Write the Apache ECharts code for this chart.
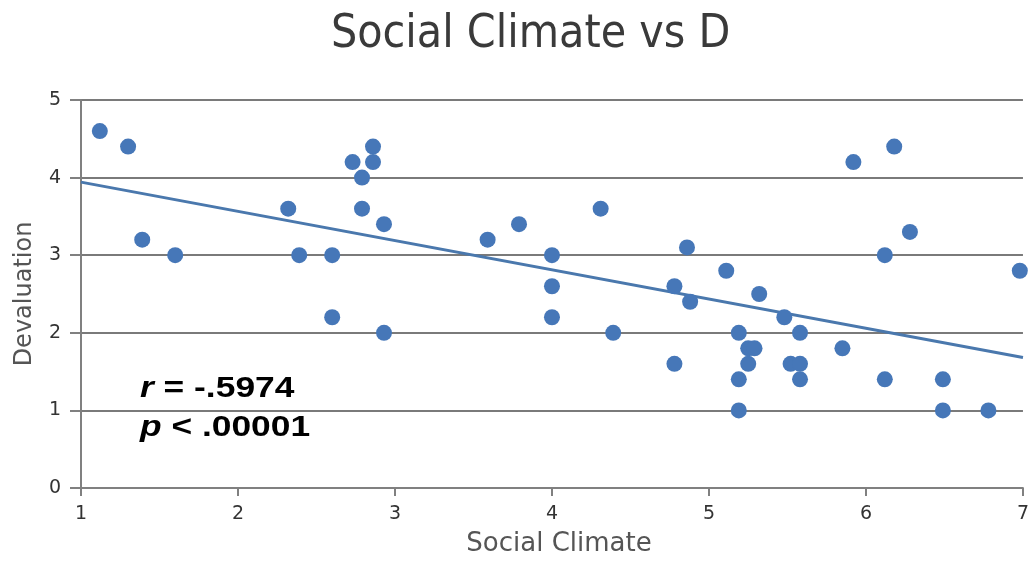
<!DOCTYPE html>
<html>
<head>
<meta charset="utf-8">
<script src="https://cdn.jsdelivr.net/npm/echarts@6/dist/echarts.min.js"></script>
<style>
html,body{margin:0;padding:0;background:#fff;}
#chart{width:1032px;height:563px;}
</style>
</head>
<body>
<div id="chart"></div>
<script>
const titleText = 'Social Climate vs D';
const xAxisName = 'Social Climate';
const yAxisName = 'Devaluation';
const statR = '-.5974';
const statP = '< .00001';

const socialClimate = [1.12,1.30,1.39,1.60,2.32,2.39,2.60,2.60,2.73,2.79,2.79,2.86,2.86,2.93,2.93,3.59,3.79,4.00,4.00,4.00,4.31,4.39,4.78,4.78,4.86,4.88,5.11,5.19,5.19,5.19,5.25,5.29,5.25,5.32,5.48,5.52,5.58,5.58,5.58,5.85,5.92,6.12,6.12,6.18,6.28,6.49,6.49,6.78,6.98];
const devaluation  = [4.6,4.4,3.2,3.0,3.6,3.0,3.0,2.2,4.2,4.0,3.6,4.4,4.2,3.4,2.0,3.2,3.4,3.0,2.6,2.2,3.6,2.0,2.6,1.6,3.1,2.4,2.8,2.0,1.4,1.0,1.8,1.8,1.6,2.5,2.2,1.6,1.6,2.0,1.4,1.8,4.2,1.4,3.0,4.4,3.3,1.4,1.0,1.0,2.8];

const xMin = 1, xMax = 7;

// least-squares fit from the data
const n = socialClimate.length;
const mx = socialClimate.reduce((a,b)=>a+b,0)/n;
const my = devaluation.reduce((a,b)=>a+b,0)/n;
let sxy = 0, sxx = 0;
for (let i=0;i<n;i++){ sxy += (socialClimate[i]-mx)*(devaluation[i]-my); sxx += (socialClimate[i]-mx)**2; }
const slope = sxy/sxx;
const intercept = my - slope*mx;
const trend = [[xMin, intercept + slope*xMin],[xMax, intercept + slope*xMax]];

const points = socialClimate.map((x,i)=>[x, devaluation[i]]);

const statRich = {
  i: { fontStyle: 'italic', fontWeight: 'bold', fontFamily: 'Liberation Sans', fontSize: 29, color: '#000', fill: '#000' },
  n: { fontStyle: 'normal', fontWeight: 'bold', fontFamily: 'Liberation Sans', fontSize: 29, color: '#000', fill: '#000' }
};

const chart = echarts.init(document.getElementById('chart'));
chart.setOption({
  backgroundColor: '#fff',
  animation: false,
  title: {
    text: titleText, left: 326, top: 7,
    textStyle: { fontFamily: 'DejaVu Sans Condensed', fontSize: 46, fontWeight: 'normal', color: '#3a3a3a' }
  },
  grid: { left: 81, right: 4, top: 100, bottom: 75, containLabel: false },
  xAxis: {
    type: 'value', min: xMin, max: xMax, interval: 1,
    name: xAxisName, nameLocation: 'middle', nameGap: 43,
    nameTextStyle: { fontFamily: 'DejaVu Sans', fontSize: 26, color: '#555', padding: [0, 0, 0, 14] },
    axisLine: { show: true, lineStyle: { color: '#808080', width: 2 } },
    axisTick: { show: true, length: 8, lineStyle: { color: '#808080', width: 2 } },
    axisLabel: { fontFamily: 'DejaVu Sans', fontSize: 19, color: '#333', margin: 17 },
    splitLine: { show: false }
  },
  yAxis: {
    type: 'value', min: 0, max: 5, interval: 1,
    name: yAxisName, nameLocation: 'middle', nameGap: 44, nameRotate: 90,
    nameTextStyle: { fontFamily: 'DejaVu Sans', fontSize: 24, color: '#555' },
    axisLine: { show: true, lineStyle: { color: '#808080', width: 2 } },
    axisTick: { show: true, length: 11, lineStyle: { color: '#808080', width: 2 } },
    axisLabel: { fontFamily: 'DejaVu Sans', fontSize: 19, color: '#333', margin: 20 },
    splitLine: { show: true, lineStyle: { color: '#7a7a7a', width: 2 } }
  },
  graphic: [
    {
      type: 'text', x: 140, y: 389, scaleX: 1.22,
      style: { text: '{i|r}{n| = ' + statR + '}', rich: statRich, verticalAlign: 'middle',
               font: 'bold 29px "Liberation Sans"', fill: '#000' }
    },
    {
      type: 'text', x: 140, y: 428, scaleX: 1.22,
      style: { text: '{i|p}{n| ' + statP + '}', rich: statRich, verticalAlign: 'middle',
               font: 'bold 29px "Liberation Sans"', fill: '#000' }
    }
  ],
  series: [
    {
      type: 'line', data: trend, showSymbol: false, symbol: 'none',
      lineStyle: { color: '#4a78ad', width: 3 }, z: 2, silent: true
    },
    {
      type: 'scatter', data: points, symbolSize: 16,
      itemStyle: { color: '#4677b8', opacity: 1 }, z: 3
    }
  ]
});
</script>
</body>
</html>
